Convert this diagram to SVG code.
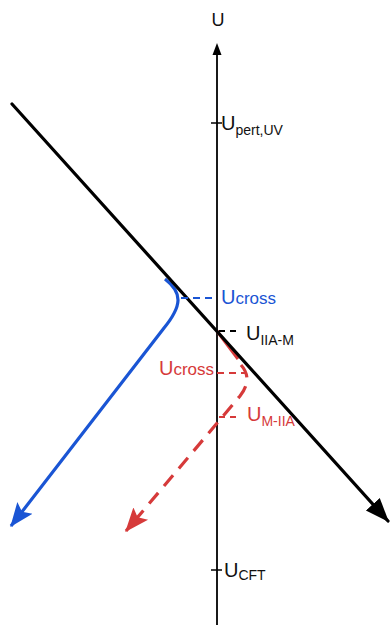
<svg xmlns="http://www.w3.org/2000/svg" width="391" height="625" viewBox="0 0 391 625">
<style>
text{font-family:"Liberation Sans",Arial,sans-serif}
.big{font-size:20px}
.sub{font-size:14px}
.k{fill:#111}
.b{fill:#1a55d4}
.r{fill:#d63a3a}
</style>
<defs>
<marker id="ak" markerUnits="userSpaceOnUse" markerWidth="24" markerHeight="24" refX="17" refY="7" orient="auto" viewBox="0 0 18 14"><path d="M0,0 L18,7 L0,14 z" fill="#000"/></marker>
<marker id="ab" markerUnits="userSpaceOnUse" markerWidth="24" markerHeight="24" refX="19" refY="8" orient="auto" viewBox="0 0 20 16"><path d="M0,0 L20,8 L0,16 L4,8 z" fill="#1a55d4"/></marker>
<marker id="ar" markerUnits="userSpaceOnUse" markerWidth="24" markerHeight="24" refX="19" refY="8" orient="auto" viewBox="0 0 20 16"><path d="M0,0 L20,8 L0,16 L4,8 z" fill="#d63a3a"/></marker>
</defs>
<g id="connectors">
<g id="axis">
<line x1="217" y1="625" x2="217" y2="54" stroke="#000" stroke-width="1.8"/>
<path d="M217,43 L212.5,55 L221.5,55 z" fill="#000"/>
<line x1="211" y1="123" x2="222" y2="123" stroke="#000" stroke-width="1.5"/>
<line x1="211" y1="570" x2="222" y2="570" stroke="#000" stroke-width="1.5"/>
</g>
<path id="blue-curve" d="M165,279 C183,293 182,306 164,328 L11,526" fill="none" stroke="#1a55d4" stroke-width="3.2" marker-end="url(#ab)"/>
<path id="red-solid" d="M217,331 L238,359" fill="none" stroke="#d63a3a" stroke-width="3.2"/>
<path id="red-curve" d="M241,365 C250,375 248,386 240,396 L126,531" fill="none" stroke="#d63a3a" stroke-width="3.2" stroke-dasharray="14 9" marker-end="url(#ar)"/>
<line id="black-line" x1="12" y1="104" x2="388" y2="521" stroke="#000" stroke-width="3.2" stroke-linecap="round" marker-end="url(#ak)"/>
<line x1="181" y1="298" x2="217" y2="298" stroke="#1a55d4" stroke-width="1.8" stroke-dasharray="7 5"/>
<line x1="219" y1="331" x2="238" y2="331" stroke="#000" stroke-width="1.8" stroke-dasharray="6 5"/>
<line x1="217" y1="373" x2="245" y2="373" stroke="#d63a3a" stroke-width="1.8" stroke-dasharray="7 5"/>
<line x1="219" y1="417" x2="240" y2="417" stroke="#d63a3a" stroke-width="1.8" stroke-dasharray="6 5"/>
</g>
<g id="label-U"><text x="218" y="26" text-anchor="middle" class="k" font-size="18">U</text></g>
<g id="label-pert"><text x="221" y="130" class="k"><tspan class="big">U</tspan><tspan class="sub" dy="5">pert,UV</tspan></text></g>
<g id="label-cross-blue"><text x="221" y="304" class="b"><tspan class="big">U</tspan><tspan font-size="17">cross</tspan></text></g>
<g id="label-IIA-M"><text x="246" y="340" class="k"><tspan class="big">U</tspan><tspan class="sub" dy="5">IIA-M</tspan></text></g>
<g id="label-cross-red"><text x="214" y="375" text-anchor="end" class="r"><tspan class="big">U</tspan><tspan font-size="17">cross</tspan></text></g>
<g id="label-M-IIA"><text x="247" y="421" class="r"><tspan class="big">U</tspan><tspan class="sub" dy="5">M-IIA</tspan></text></g>
<g id="label-CFT"><text x="224" y="577" class="k"><tspan class="big">U</tspan><tspan class="sub" dy="3">CFT</tspan></text></g>
</svg>
